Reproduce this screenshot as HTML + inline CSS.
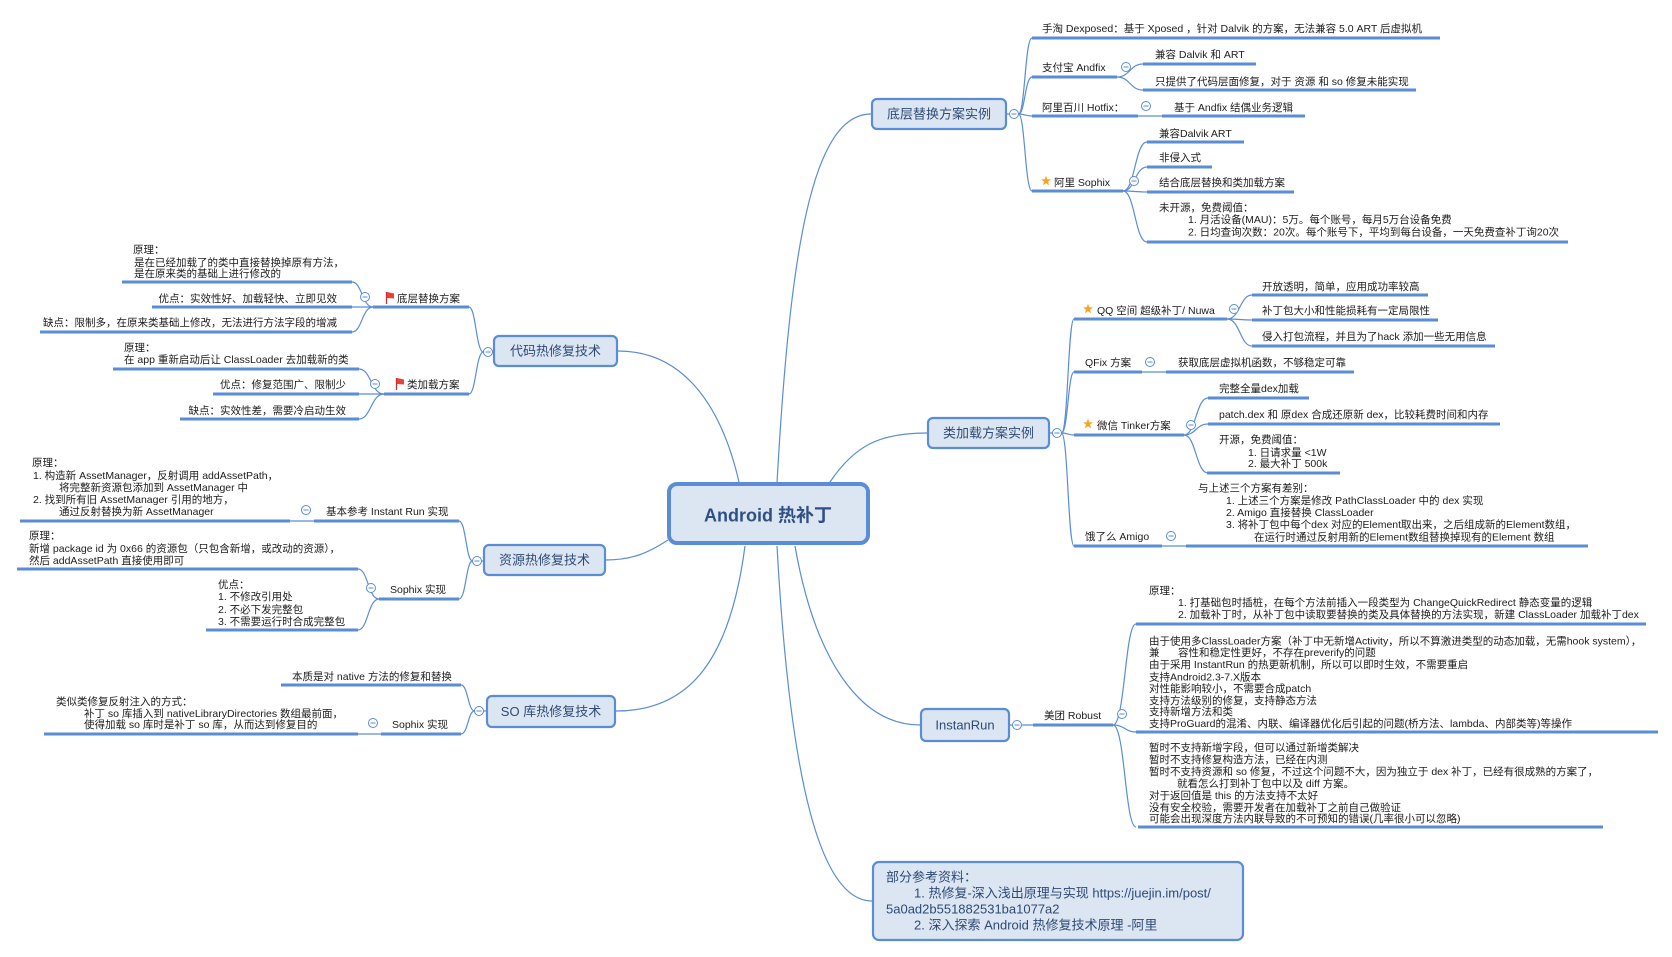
<!DOCTYPE html>
<html><head><meta charset="utf-8"><style>
html,body{margin:0;padding:0;background:#fff;}
svg{display:block;}
text{font-family:"Liberation Sans","Noto Sans CJK SC",sans-serif;}
.t{font-size:10.5px;fill:#1c1c1c;}
.n{font-size:13px;fill:#2d4a76;}
.u{stroke:#5a8dd5;stroke-width:3;fill:none;}
.c{stroke:#5a8dd5;stroke-width:1.2;fill:none;}
.node{fill:#dce6f2;stroke:#5a8dd5;stroke-width:2.2;}
.star{fill:#f5a623;}
</style></head><body>
<svg width="1672" height="957" viewBox="0 0 1672 957">
<defs>
<g id="mc"><circle cx="0" cy="0" r="4.5" fill="#ffffff" stroke="#5a8dd5" stroke-width="1"/><line x1="-2.5" y1="0" x2="2.5" y2="0" stroke="#5a8dd5" stroke-width="1"/></g>
<polygon id="st" fill="#f5a623" points="0,-5.2 1.29,-1.78 4.95,-1.61 2.09,0.68 3.06,4.21 0,2.2 -3.06,4.21 -2.09,0.68 -4.95,-1.61 -1.29,-1.78"/>
</defs>

<!-- central connectors -->
<path class="c" d="M777,483 C790,250 812,114 871,114"/>
<path class="c" d="M830,482 C855,445 880,433 927,433"/>
<path class="c" d="M739,482 C720,400 680,351 618,351"/>
<path class="c" d="M668,540 C648,553 632,560 606,560"/>
<path class="c" d="M745,546 C730,660 690,711 616,711"/>
<path class="c" d="M795,546 C815,660 860,725 920,725"/>
<path class="c" d="M777,546 C790,780 820,901 872,901"/>

<!-- level-1 brace connectors -->
<g class="c">
<path d="M1007,114 H1019"/>
<path d="M1018.5,114 C1025,114 1025,38 1032,38"/>
<path d="M1018.5,114 C1025,114 1025,77 1032,77"/>
<path d="M1018.5,114 C1025,114 1025,116 1032,116"/>
<path d="M1018.5,114 C1025,114 1025,191 1032,191"/>
<path d="M1050,433 H1062"/>
<path d="M1061.5,433 C1068,433 1068,319 1074,319"/>
<path d="M1061.5,433 C1068,433 1068,372 1074,372"/>
<path d="M1061.5,433 C1068,433 1068,435 1074,435"/>
<path d="M1061.5,433 C1068,433 1068,546 1074,546"/>
<path d="M1010,725 H1033"/>
<path d="M493,351 H483"/>
<path d="M483.5,352 C476,352 476,307 469,307"/>
<path d="M483.5,352 C476,352 476,394 469,394"/>
<path d="M483,561 H472"/>
<path d="M472.5,561 C466,561 466,521 459,521"/>
<path d="M472.5,561 C466,561 466,599 459,599"/>
<path d="M486,711 H474"/>
<path d="M474.5,711 C468,711 468,685 461,685"/>
<path d="M474.5,711 C468,711 468,734 461,734"/>
</g>

<!-- level-2 connectors -->
<g class="c">
<path d="M1117,77 C1130,77 1130,64 1143,64"/>
<path d="M1117,77 C1130,77 1130,90 1143,90"/>
<path d="M1138,116 H1162"/>
<path d="M1123,191 C1135,191 1135,142 1147,142"/>
<path d="M1123,191 C1135,191 1135,167 1147,167"/>
<path d="M1123,191 C1135,191 1135,192 1147,192"/>
<path d="M1123,191 C1135,191 1135,242 1147,242"/>
<path d="M1227,319 C1240,319 1240,295 1252,295"/>
<path d="M1227,319 C1240,319 1240,320 1252,320"/>
<path d="M1227,319 C1240,319 1240,346 1252,346"/>
<path d="M1142,372 H1166"/>
<path d="M1184,435 C1196,435 1196,398 1208,398"/>
<path d="M1184,435 C1196,435 1196,424 1208,424"/>
<path d="M1184,435 C1196,435 1196,473 1208,473"/>
<path d="M1162,546 H1186"/>
<path d="M1113,725 C1125,725 1125,624 1136,624"/>
<path d="M1113,725 C1125,725 1125,732 1136,732"/>
<path d="M1113,725 C1125,725 1125,827 1136,827"/>
<path d="M373,307 C362,307 362,282 352,282"/>
<path d="M373,307 H352"/>
<path d="M373,307 C362,307 362,332 352,332"/>
<path d="M384,394 C371,394 371,369 359,369"/>
<path d="M384,394 H359"/>
<path d="M384,394 C371,394 371,419 359,419"/>
<path d="M314,521 H290"/>
<path d="M379,599 C368,599 368,569 358,569"/>
<path d="M379,599 C368,599 368,630 358,630"/>
<path d="M381,734 H358"/>
</g>

<!-- underlines -->
<g class="u">
<path d="M1032,38 H1440"/>
<path d="M1032,77 H1117"/>
<path d="M1143,64 H1256"/>
<path d="M1143,90 H1416"/>
<path d="M1032,116 H1138"/>
<path d="M1162,116 H1305"/>
<path d="M1032,191 H1123"/>
<path d="M1147,142 H1244"/>
<path d="M1147,167 H1212"/>
<path d="M1147,192 H1294"/>
<path d="M1147,242 H1568"/>
<path d="M1074,319 H1227"/>
<path d="M1252,295 H1428"/>
<path d="M1252,320 H1438"/>
<path d="M1252,346 H1495"/>
<path d="M1074,372 H1142"/>
<path d="M1166,372 H1354"/>
<path d="M1074,435 H1184"/>
<path d="M1208,398 H1309"/>
<path d="M1208,424 H1500"/>
<path d="M1207,473 H1340"/>
<path d="M1074,546 H1162"/>
<path d="M1186,546 H1588"/>
<path d="M1033,725 H1113"/>
<path d="M1136,624 H1646"/>
<path d="M1136,732 H1658"/>
<path d="M1138,827 H1603"/>
<path d="M373,307 H469"/>
<path d="M122,282 H352"/>
<path d="M152,307 H352"/>
<path d="M40,332 H352"/>
<path d="M384,394 H469"/>
<path d="M113,369 H359"/>
<path d="M213,394 H359"/>
<path d="M180,419 H359"/>
<path d="M314,521 H459"/>
<path d="M20,521 H290"/>
<path d="M379,599 H459"/>
<path d="M17,569 H358"/>
<path d="M206,630 H358"/>
<path d="M281,685 H461"/>
<path d="M381,734 H461"/>
<path d="M44,734 H358"/>
</g>

<!-- nodes -->
<rect x="669" y="484" width="199" height="59" rx="8" fill="#dce6f2" stroke="#5a8dd5" stroke-width="4"/>
<text x="768" y="521.5" text-anchor="middle" style="font-size:18px;font-weight:bold;fill:#2f5083">Android 热补丁</text>

<rect class="node" x="872" y="99" width="134" height="30" rx="5"/>
<text class="n" x="939" y="118.7" text-anchor="middle">底层替换方案实例</text>
<rect class="node" x="928" y="418" width="121" height="30" rx="5"/>
<text class="n" x="988.5" y="437.7" text-anchor="middle">类加载方案实例</text>
<rect class="node" x="494" y="336" width="123" height="30" rx="5"/>
<text class="n" x="555.5" y="355.7" text-anchor="middle">代码热修复技术</text>
<rect class="node" x="484" y="545" width="121" height="30" rx="5"/>
<text class="n" x="544.5" y="564.7" text-anchor="middle">资源热修复技术</text>
<rect class="node" x="487" y="696" width="128" height="31" rx="5"/>
<text class="n" x="551" y="716.2" text-anchor="middle">SO 库热修复技术</text>
<rect class="node" x="921" y="709" width="88" height="32" rx="5"/>
<text class="n" x="965" y="729.7" text-anchor="middle">InstanRun</text>
<rect class="node" x="873" y="862" width="370" height="78" rx="6"/>
<text class="n" x="886" y="881.7">部分参考资料：</text>
<text class="n" x="914" y="897.7">1. 热修复-深入浅出原理与实现 https://juejin.im/post/</text>
<text class="n" x="886" y="913.7">5a0ad2b551882531ba1077a2</text>
<text class="n" x="914" y="929.7">2. 深入探索 Android 热修复技术原理 -阿里</text>

<!-- collapse circles -->
<g>
<use href="#mc" x="1014" y="114"/>
<use href="#mc" x="1057" y="433"/>
<use href="#mc" x="1017" y="725"/>
<use href="#mc" x="488" y="352"/>
<use href="#mc" x="477" y="561"/>
<use href="#mc" x="479" y="711"/>
<use href="#mc" x="1126" y="67"/>
<use href="#mc" x="1146" y="106"/>
<use href="#mc" x="1134" y="181"/>
<use href="#mc" x="1234" y="309"/>
<use href="#mc" x="1150" y="362"/>
<use href="#mc" x="1191" y="425"/>
<use href="#mc" x="1171" y="536"/>
<use href="#mc" x="1122" y="714"/>
<use href="#mc" x="365" y="297"/>
<use href="#mc" x="375" y="384"/>
<use href="#mc" x="306" y="510"/>
<use href="#mc" x="371" y="588"/>
<use href="#mc" x="373" y="723"/>
</g>

<!-- stars & flags -->
<use href="#st" x="1046" y="181"/>
<use href="#st" x="1088" y="309"/>
<use href="#st" x="1088" y="424"/>
<g>
<line x1="386.5" y1="292" x2="386.5" y2="304" stroke="#c9302c" stroke-width="1.3"/>
<polygon points="387,292 394,293.5 394,298.5 387,298" fill="#e8413b"/>
<line x1="396.5" y1="378" x2="396.5" y2="390" stroke="#c9302c" stroke-width="1.3"/>
<polygon points="397,378 404,379.5 404,384.5 397,384" fill="#e8413b"/>
</g>

<!-- right top texts -->
<g class="t">
<text x="1042" y="31.8">手淘 Dexposed：基于 Xposed ，针对 Dalvik 的方案，无法兼容 5.0 ART 后虚拟机</text>
<text x="1042" y="70.8">支付宝 Andfix</text>
<text x="1155" y="57.8">兼容 Dalvik 和 ART</text>
<text x="1155" y="84.8">只提供了代码层面修复，对于 资源 和 so 修复未能实现</text>
<text x="1042" y="110.8">阿里百川 Hotfix：</text>
<text x="1174" y="110.8">基于 Andfix 结偶业务逻辑</text>
<text x="1054" y="185.8">阿里 Sophix</text>
<text x="1159" y="136.8">兼容Dalvik ART</text>
<text x="1159" y="160.8">非侵入式</text>
<text x="1159" y="185.8">结合底层替换和类加载方案</text>
<text x="1159" y="210.8">未开源，免费阈值：</text>
<text x="1188" y="222.8">1. 月活设备(MAU)：5万。每个账号，每月5万台设备免费</text>
<text x="1188" y="235.3">2. 日均查询次数：20次。每个账号下，平均到每台设备，一天免费查补丁询20次</text>

<!-- right middle -->
<text x="1097" y="313.8">QQ 空间 超级补丁/ Nuwa</text>
<text x="1262" y="289.8">开放透明，简单，应用成功率较高</text>
<text x="1262" y="313.8">补丁包大小和性能损耗有一定局限性</text>
<text x="1262" y="339.8">侵入打包流程，并且为了hack 添加一些无用信息</text>
<text x="1085" y="365.8">QFix 方案</text>
<text x="1178" y="365.8">获取底层虚拟机函数，不够稳定可靠</text>
<text x="1097" y="428.8">微信 Tinker方案</text>
<text x="1219" y="391.8">完整全量dex加载</text>
<text x="1219" y="417.8">patch.dex 和 原dex 合成还原新 dex，比较耗费时间和内存</text>
<text x="1219" y="442.8">开源，免费阈值：</text>
<text x="1248" y="455.8">1. 日请求量 &lt;1W</text>
<text x="1248" y="466.8">2. 最大补丁 500k</text>
<text x="1085" y="539.8">饿了么 Amigo</text>
<text x="1198" y="491.5">与上述三个方案有差别：</text>
<text x="1226" y="503.8">1. 上述三个方案是修改 PathClassLoader 中的 dex 实现</text>
<text x="1226" y="515.8">2. Amigo 直接替换 ClassLoader</text>
<text x="1226" y="527.8">3. 将补丁包中每个dex 对应的Element取出来，之后组成新的Element数组，</text>
<text x="1254" y="540.3">在运行时通过反射用新的Element数组替换掉现有的Element 数组</text>

<!-- Robust -->
<text x="1044" y="718.8">美团 Robust</text>
<text x="1149" y="593.8">原理：</text>
<text x="1178" y="605.8">1. 打基础包时插桩，在每个方法前插入一段类型为 ChangeQuickRedirect 静态变量的逻辑</text>
<text x="1178" y="617.8">2. 加载补丁时，从补丁包中读取要替换的类及具体替换的方法实现，新建 ClassLoader 加载补丁dex</text>
<text x="1149" y="644.5">由于使用多ClassLoader方案（补丁中无新增Activity，所以不算激进类型的动态加载，无需hook system），</text>
<text x="1149" y="656.1">兼</text>
<text x="1178" y="656.1">容性和稳定性更好，不存在preverify的问题</text>
<text x="1149" y="668.1">由于采用 InstantRun 的热更新机制，所以可以即时生效，不需要重启</text>
<text x="1149" y="680.5">支持Android2.3-7.X版本</text>
<text x="1149" y="692.1">对性能影响较小，不需要合成patch</text>
<text x="1149" y="703.8">支持方法级别的修复，支持静态方法</text>
<text x="1149" y="714.8">支持新增方法和类</text>
<text x="1149" y="727.1">支持ProGuard的混淆、内联、编译器优化后引起的问题(桥方法、lambda、内部类等)等操作</text>
<text x="1149" y="750.8">暂时不支持新增字段，但可以通过新增类解决</text>
<text x="1149" y="762.8">暂时不支持修复构造方法，已经在内测</text>
<text x="1149" y="774.8">暂时不支持资源和 so 修复，不过这个问题不大，因为独立于 dex 补丁，已经有很成熟的方案了，</text>
<text x="1177" y="786.8">就看怎么打到补丁包中以及 diff 方案。</text>
<text x="1149" y="798.8">对于返回值是 this 的方法支持不太好</text>
<text x="1149" y="810.8">没有安全校验，需要开发者在加载补丁之前自己做验证</text>
<text x="1149" y="821.8">可能会出现深度方法内联导致的不可预知的错误(几率很小可以忽略)</text>

<!-- left: code -->
<text x="397" y="301.8">底层替换方案</text>
<text x="133" y="252.8">原理：</text>
<text x="134" y="265.8">是在已经加载了的类中直接替换掉原有方法，</text>
<text x="134" y="276.8">是在原来类的基础上进行修改的</text>
<text x="337" y="301.8" text-anchor="end">优点：实效性好、加载轻快、立即见效</text>
<text x="337" y="325.8" text-anchor="end">缺点：限制多，在原来类基础上修改，无法进行方法字段的增减</text>
<text x="407" y="387.8">类加载方案</text>
<text x="124" y="350.8">原理：</text>
<text x="124" y="362.8">在 app 重新启动后让 ClassLoader 去加载新的类</text>
<text x="346" y="387.8" text-anchor="end">优点：修复范围广、限制少</text>
<text x="346" y="413.8" text-anchor="end">缺点：实效性差，需要冷启动生效</text>

<!-- left: resources -->
<text x="326" y="514.8">基本参考 Instant Run 实现</text>
<text x="32" y="465.8">原理：</text>
<text x="33" y="478.8">1. 构造新 AssetManager，反射调用 addAssetPath，</text>
<text x="59" y="490.8">将完整新资源包添加到 AssetManager 中</text>
<text x="33" y="502.8">2. 找到所有旧 AssetManager 引用的地方，</text>
<text x="59" y="514.8">通过反射替换为新 AssetManager</text>
<text x="390" y="592.8">Sophix 实现</text>
<text x="29" y="538.8">原理：</text>
<text x="29" y="551.8">新增 package id 为 0x66 的资源包（只包含新增，或改动的资源），</text>
<text x="29" y="563.8">然后 addAssetPath 直接使用即可</text>
<text x="218" y="587.8">优点：</text>
<text x="218" y="599.8">1. 不修改引用处</text>
<text x="218" y="612.8">2. 不必下发完整包</text>
<text x="218" y="624.8">3. 不需要运行时合成完整包</text>

<!-- left: so -->
<text x="292" y="679.8">本质是对 native 方法的修复和替换</text>
<text x="392" y="727.8">Sophix 实现</text>
<text x="56" y="704.8">类似类修复反射注入的方式：</text>
<text x="84" y="716.8">补丁 so 库插入到 nativeLibraryDirectories 数组最前面，</text>
<text x="84" y="727.8">使得加载 so 库时是补丁 so 库，从而达到修复目的</text>
</g>
</svg>
</body></html>
